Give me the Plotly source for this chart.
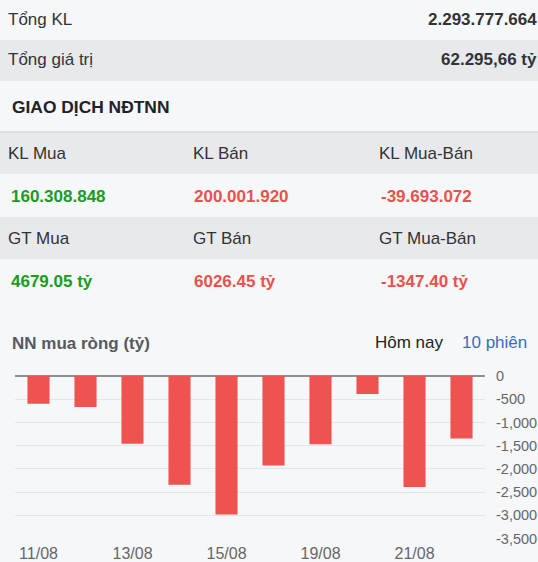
import plotly.graph_objects as go

# ---------------- data ----------------
summary_labels = ["Tổng KL", "Tổng giá trị"]
summary_values = ["2.293.777.664", "62.295,66 tỷ"]
section_title = "GIAO DỊCH NĐTNN"
kl_headers = ["KL Mua", "KL Bán", "KL Mua-Bán"]
kl_values = ["160.308.848", "200.001.920", "-39.693.072"]
gt_headers = ["GT Mua", "GT Bán", "GT Mua-Bán"]
gt_values = ["4679.05 tỷ", "6026.45 tỷ", "-1347.40 tỷ"]

chart_title = "NN mua ròng (tỷ)"
dates = ["11/08", "12/08", "13/08", "14/08", "15/08",
         "18/08", "19/08", "20/08", "21/08", "22/08"]
net_buy = [-600, -665, -1460, -2340, -2985, -1930, -1470, -390, -2390, -1347.40]
x_tick_dates = ["11/08", "13/08", "15/08", "19/08", "21/08"]
y_tick_vals = [0, -500, -1000, -1500, -2000, -2500, -3000, -3500]
y_tick_text = ["0", "-500", "-1,000", "-1,500", "-2,000", "-2,500", "-3,000", "-3,500"]

# ---------------- style ----------------
W, H = 538, 562
FONT = "Liberation Sans, Arial, sans-serif"
LIGHT = "#f6f7f9"
GRAY = "#e7e9ec"
DARK = "#333333"
GREEN = "#1a9c22"
RED = "#e8524a"
BAR = "#ef5350"


def px(x):
    return x / W


def py(y):
    return 1 - y / H


fig = go.Figure()
fig.add_trace(go.Bar(x=dates, y=net_buy, marker=dict(color=BAR, line=dict(width=0)),
                     hoverinfo="x+y"))

shapes = []
rows = [(0, 40, LIGHT), (40, 81, GRAY), (81, 132, LIGHT), (132, 174, GRAY),
        (174, 217, LIGHT), (217, 259, GRAY), (259, 562, LIGHT)]
for y0, y1, c in rows:
    shapes.append(dict(type="rect", xref="paper", yref="paper", x0=0, x1=1,
                       y0=py(y1), y1=py(y0), fillcolor=c, line=dict(width=0), layer="below"))
shapes.append(dict(type="line", xref="paper", yref="paper", x0=0, x1=1,
                   y0=py(132), y1=py(132), line=dict(color="#d5d8dc", width=1.5), layer="below"))

ann = []


def text(x, y, s, size=17, color=DARK, bold=False, anchor="left"):
    ann.append(dict(x=px(x), y=py(y), xref="paper", yref="paper", text=("<b>%s</b>" % s) if bold else s,
                    showarrow=False, xanchor=anchor, yanchor="middle",
                    font=dict(family=FONT, size=size, color=color)))


for lbl, val, yc in zip(summary_labels, summary_values, [19, 60]):
    text(6, yc, lbl)
    text(539, yc, val, bold=True, anchor="right")
text(10, 107, section_title, size=17.4, bold=True, color="#222222")

cols_h = [6, 191, 377]
cols_v = [9, 192, 379]
colors = [GREEN, RED, RED]
for i in range(3):
    text(cols_h[i], 153, kl_headers[i])
    text(cols_v[i], 196, kl_values[i], bold=True, color=colors[i])
    text(cols_h[i], 238, gt_headers[i])
    text(cols_v[i], 281, gt_values[i], bold=True, color=colors[i])

text(10, 343, chart_title, bold=True, color="#555a60")
text(373, 342, "Hôm nay", color="#222222")
text(460, 342, "10 phiên", color="#3b6cc0")

fig.update_layout(
    width=W, height=H,
    margin=dict(l=0, r=0, t=0, b=0),
    paper_bgcolor=LIGHT, plot_bgcolor="rgba(0,0,0,0)",
    showlegend=False,
    bargap=0.53,
    shapes=shapes,
    annotations=ann,
    font=dict(family=FONT),
    xaxis=dict(domain=[px(15), px(485)], type="category", automargin=False,
               tickmode="array", tickvals=x_tick_dates, ticktext=x_tick_dates,
               showgrid=False, showline=False, zeroline=False, ticks="",
               ticklabelstandoff=3,
               tickfont=dict(family=FONT, size=16, color="#666666"), fixedrange=True),
    yaxis=dict(domain=[py(538.5), py(376)], range=[-3500, 0], side="right", automargin=False,
               tickmode="array", tickvals=y_tick_vals, ticktext=y_tick_text,
               showgrid=True, gridcolor="#e3e5e8", gridwidth=1,
               zeroline=True, zerolinecolor="#8c8f94", zerolinewidth=1.5,
               showline=False, ticks="", ticklabelstandoff=10,
               tickfont=dict(family=FONT, size=14.5, color="#666666"), fixedrange=True),
)

fig.write_html("out.html", config={"displayModeBar": False},
               post_script="document.body.style.margin='0';document.body.style.overflow='hidden';")
